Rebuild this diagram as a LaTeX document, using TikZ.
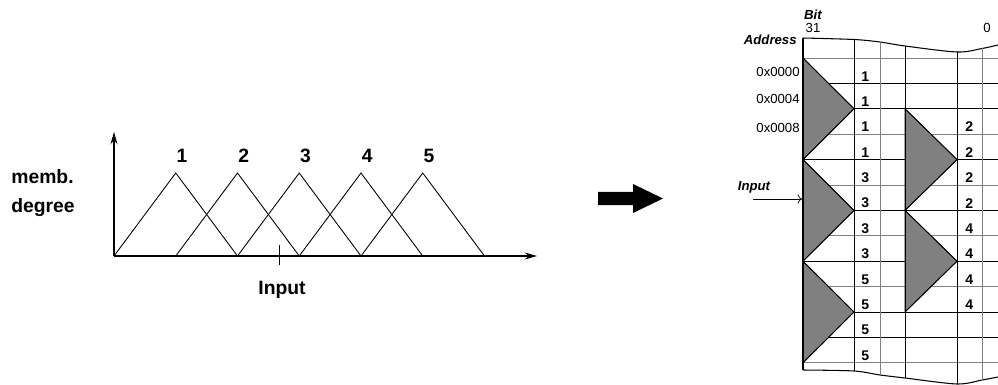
\documentclass[tikz,border=0pt]{standalone}
\usepackage{fontspec}
\setmainfont{Liberation Sans}
\usetikzlibrary{arrows.meta}

\begin{document}
\begin{tikzpicture}[
            x=0.02cm, y=-0.02cm,
            bigtext/.style={
                font=\bfseries\fontsize{11}{16}\selectfont,
                inner sep=0pt
            },
            celltext/.style={
                font=\bfseries\fontsize{8}{9}\selectfont,
                inner sep=0pt,
                anchor=south west
            },
            smalltext/.style={
                font=\fontsize{7.5}{9}\selectfont,
                inner sep=0pt
            },
            italtext/.style={
                font=\bfseries\itshape\fontsize{7.5}{9}\selectfont,
                inner sep=0pt
            },
            axis/.style={
                line width=0.6pt,
                -{Stealth[length=7pt,width=4pt]}
            },
            shade/.style={fill=gray, draw=black, line width=0.5pt}
        ]

            \useasboundingbox (0,0) rectangle (998,385);

            % membership functions
            \coordinate (o) at (114,256);
            \draw[axis] (o) -- (114,132);
            \draw[axis] (o) -- (537,256);
            \foreach \lab [count=\i from 0] in {1,2,3,4,5} {
                \draw[line width=0.5pt] ({114+61.75*\i},256) -- ({175.75+61.75*\i},173)
                    -- ({237.5+61.75*\i},256);
                \node[bigtext] (m\lab) at ({182+61.75*\i},156) {\lab};
            }
            \draw (279,245) -- (279,265);
            \node[bigtext] (input) at (282,290) {Input};
            \node[bigtext, align=left, anchor=west] (memb) at (11,193)
                {memb.\\degree};

            % big arrow
            \fill (598,192) -- (633,192) -- (633,184) -- (663,198.5)
                -- (633,213) -- (633,205) -- (598,205) -- cycle;

            % table
            \foreach \i/\c in {0/gray,1/black,2/black,3/gray,4/black,5/gray,6/black,
                    7/gray,8/black,9/gray,10/black,11/black,12/gray} {
                \draw[\c, line width=0.45pt] (803,{58+25.4*\i}) -- (998,{58+25.4*\i});
            }
            \draw[line width=0.6pt] plot[smooth] coordinates
                {(803,38) (854,39.5) (880,42) (905,46) (957,52) (982,48.5) (998,45)};
            \draw[line width=0.6pt] plot[smooth] coordinates
                {(803,370) (854,371) (880,375) (905,378) (957,384) (982,380) (998,377)};

            \fill[shade] (803,58) -- (854,108.8) -- (803,159.6) -- cycle;
            \fill[shade] (803,159.6) -- (854,210.4) -- (803,261.2) -- cycle;
            \fill[shade] (803,261.2) -- (854,312) -- (803,362.8) -- cycle;
            \fill[shade] (905,108.8) -- (957,159.6) -- (905,210.4) -- cycle;
            \fill[shade] (905,210.4) -- (957,261.2) -- (905,312) -- cycle;
            \draw (803,58) -- (854,108.8) -- (803,159.6) -- (854,210.4)
                -- (803,261.2) -- (854,312) -- (803,362.8);
            \draw (905,108.8) -- (957,159.6) -- (905,210.4) -- (957,261.2) -- (905,312);

            \foreach \x/\t/\b/\c in {854/39.5/371/black, 880/42/375/gray,
                    905/46/378/black, 957/52/384/black, 982/48.5/380/gray} {
                \draw[\c, line width=0.5pt] (\x,\t) -- (\x,\b);
            }
            \draw[line width=1.2pt] (803,38) -- (803,370);

            \foreach \lab [count=\i from 1] in {1,1,1,1,3,3,3,3,5,5,5,5} {
                \node[celltext] (a\i) at (861,{58+25.4*\i-2}) {\lab};
            }
            \foreach \lab [count=\i from 3] in {2,2,2,2,4,4,4,4} {
                \node[celltext] (b\i) at (965,{58+25.4*\i-2}) {\lab};
            }

            % labels
            \node[smalltext, anchor=east] (addr0) at (800,72) {0x0000};
            \node[smalltext, anchor=east] (addr4) at (800,99) {0x0004};
            \node[smalltext, anchor=east] (addr8) at (800,128) {0x0008};
            \node[italtext, anchor=east] (address) at (797,40) {Address};
            \node[italtext] (bit) at (813,15) {Bit};
            \node[smalltext] (bit31) at (813,28) {31};
            \node[smalltext] (bit0) at (987,28) {0};

            \node[italtext] (inlab) at (754,187) {Input};
            \coordinate (instart) at (753,199);
            \coordinate (inend) at (802,199);
            \draw[->, line width=0.4pt] (instart) -- (inend);

        \end{tikzpicture}
\end{document}
